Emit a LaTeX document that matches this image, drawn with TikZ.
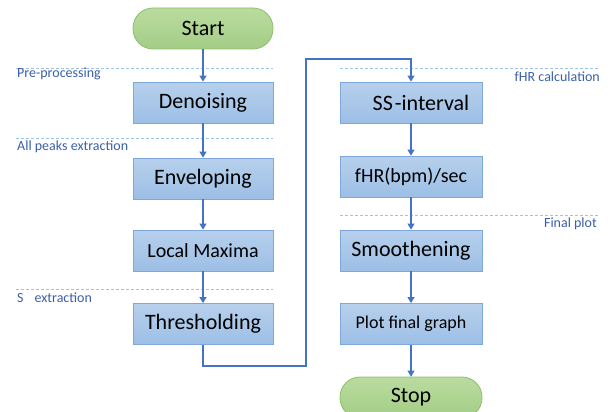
\documentclass[tikz,border=0pt]{standalone}
\usepackage{fontspec}
\setmainfont{Carlito}
\usetikzlibrary{arrows.meta}
\definecolor{boxtop}{HTML}{B7D0EC}
\definecolor{boxbot}{HTML}{9CBFE6}
\definecolor{boxline}{HTML}{7FA8DA}
\definecolor{arrowc}{HTML}{4472C4}
\definecolor{greentop}{HTML}{BADC9F}
\definecolor{greenbot}{HTML}{A3CD86}
\definecolor{greenline}{HTML}{8DBF6B}
\definecolor{dashc}{HTML}{9DC3E6}
\definecolor{labc}{HTML}{3A5FA8}
\tikzset{
  procbox/.style={draw=boxline, line width=0.8pt, top color=boxtop, bottom color=boxbot,
    minimum height=41pt, inner sep=0pt, text=black},
  pill/.style={draw=greenline, line width=0.8pt, top color=greentop, bottom color=greenbot,
    rounded corners=20pt, minimum height=41pt, minimum width=140pt, inner sep=0pt, text=black,
    font=\fontsize{22}{26}\selectfont},
  flow/.style={draw=arrowc, line width=1.1pt, -{Triangle[width=7pt,length=6pt]}},
  sepline/.style={draw=dashc, line width=0.8pt, dash pattern=on 3pt off 2pt},
  seclabel/.style={text=labc, font=\fontsize{14}{16}\selectfont, inner sep=0pt},
  bigtxt/.style={font=\fontsize{22}{26}\selectfont},
  midtxt/.style={font=\fontsize{20}{24}\selectfont},
  smalltxt/.style={font=\fontsize{18}{22}\selectfont}
}
\begin{document}
\begin{tikzpicture}[x=1pt,y=-1pt]
\useasboundingbox (0,0) rectangle (613,412);
\clip (0,0) rectangle (613,412);
% separators
\draw[sepline] (16,68) -- (273,68);
\draw[sepline] (16,138) -- (273,138);
\draw[sepline] (16,289) -- (273,289);
\draw[sepline] (340,68) -- (600,68);
\draw[sepline] (340,215) -- (600,215);
\node[seclabel, anchor=west] (l1) at (17,74) {Pre-processing};
\node[seclabel, anchor=west] (l2) at (17,147) {All peaks extraction};
\node[seclabel, anchor=west] (l3) at (17,298) {S\hspace{11pt}extraction};
\node[seclabel, anchor=east] (l4) at (600,77) {fHR calculation};
\node[seclabel, anchor=east] (l5) at (597,224) {Final plot};
% left column
\node[pill] (start) at (203,28.5) {Start};
\node[procbox, minimum width=140pt, bigtxt] (den) at (203,102.5) {Denoising};
\node[procbox, minimum width=140pt, bigtxt] (env) at (203,178.5) {Enveloping};
\node[procbox, minimum width=140pt, midtxt] (loc) at (203,250.5) {Local Maxima};
\node[procbox, minimum width=140pt, bigtxt] (thr) at (203,324) {Thresholding};
% right column
\node[procbox, minimum width=142pt, bigtxt] (ss) at (411,102.5) {\hspace{20pt}SS\hspace{2pt}-interval};
\node[procbox, minimum width=142pt, midtxt] (fhr) at (411,176.5) {fHR(bpm)/sec};
\node[procbox, minimum width=142pt, bigtxt] (smo) at (411,250.5) {Smoothening};
\node[procbox, minimum width=142pt, smalltxt] (plt) at (411,324) {Plot final graph};
\node[pill, minimum width=142pt] (stop) at (411,397.5) {Stop};
% connectors
\coordinate (c2) at (306,366);
\coordinate (c3) at (306,59);
\draw[flow] (start) -- (den);
\draw[flow] (den) -- (env);
\draw[flow] (env) -- (loc);
\draw[flow] (loc) -- (thr);
\draw[flow] (thr.south) |- (c2) -- (c3) -| (ss.north);
\draw[flow] (ss) -- (fhr);
\draw[flow] (fhr) -- (smo);
\draw[flow] (smo) -- (plt);
\draw[flow] (plt) -- (stop);
\end{tikzpicture}
\end{document}
